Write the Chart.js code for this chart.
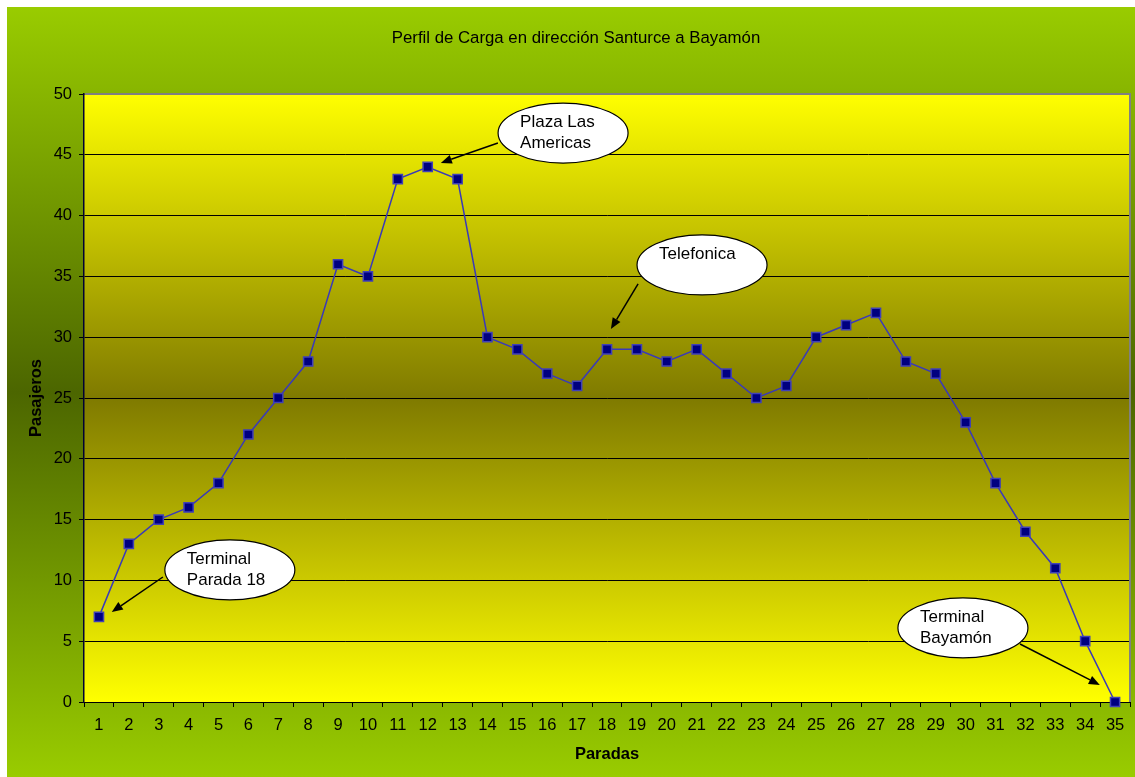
<!DOCTYPE html>
<html>
<head>
<meta charset="utf-8">
<title>Perfil de Carga en dirección Santurce a Bayamón</title>
<script src="https://cdn.jsdelivr.net/npm/chart.js@4"></script>
<style>
  html, body { margin: 0; padding: 0; background: #fff; }
  #wrap { width: 1135px; height: 777px; }
</style>
</head>
<body>
<div id="wrap"><canvas id="c" width="1135" height="777"></canvas></div>
<script>
// Stops along the route (x axis) and passenger load at each stop
const stopLabels = ['1','2','3','4','5','6','7','8','9','10','11','12','13','14','15','16','17','18',
                    '19','20','21','22','23','24','25','26','27','28','29','30','31','32','33','34','35'];
const passengers = [7,13,15,16,18,22,25,28,36,35,43,44,43,30,29,27,26,29,29,28,29,27,25,26,
                    30,31,32,28,27,23,18,14,11,5,0];
const yTicks = [0,5,10,15,20,25,30,35,40,45,50];

const chartTitle = 'Perfil de Carga en dirección Santurce a Bayamón';
const xTitle = 'Paradas';
const yTitle = 'Pasajeros';

// Callout bubbles: text lines
const calloutTexts = [
  ['Terminal', 'Parada 18'],
  ['Plaza Las', 'Americas'],
  ['Telefonica'],
  ['Terminal', 'Bayamón']
];
// Bubble centre and arrow (tail -> tip), in (stop, passengers) units
const calloutPlacement = [
  { c: [5.38, 10.86],  from: [3.14, 10.28],  to: [1.43, 7.40] },
  { c: [16.53, 46.79], from: [14.35, 45.97], to: [12.44, 44.33] },
  { c: [21.18, 35.94], from: [19.04, 34.38], to: [18.13, 30.67] },
  { c: [29.91, 6.09],  from: [31.82, 4.77],  to: [34.49, 1.40] }
];

const FONT = "'Liberation Sans', Arial, sans-serif";

// Frame backgrounds: green outer panel and yellow/olive plot area
const backgroundPlugin = {
  id: 'panelBackground',
  beforeDraw(chart) {
    const { ctx, chartArea: a } = chart;
    ctx.save();
    ctx.fillStyle = '#ffffff';
    ctx.fillRect(0, 0, chart.width, chart.height);

    const og = ctx.createLinearGradient(0, 7, 0, chart.height);
    og.addColorStop(0, '#99cc00');
    og.addColorStop(0.5, '#4c6600');
    og.addColorStop(1, '#99cc00');
    ctx.fillStyle = og;
    ctx.fillRect(7, 7, chart.width - 7, chart.height - 7);

    const pg = ctx.createLinearGradient(0, a.top, 0, a.bottom);
    pg.addColorStop(0, '#ffff00');
    pg.addColorStop(0.5, '#7f7a00');
    pg.addColorStop(1, '#ffff00');
    ctx.fillStyle = pg;
    ctx.fillRect(a.left, a.top, a.right - a.left, a.bottom - a.top);

    // chart title
    ctx.fillStyle = '#000';
    ctx.font = '16.8px ' + FONT;
    ctx.textAlign = 'center';
    ctx.textBaseline = 'middle';
    ctx.fillText(chartTitle, 576, 38);
    ctx.restore();
  },
  beforeDatasetsDraw(chart) {
    const { ctx, chartArea: a } = chart;
    ctx.save();
    ctx.strokeStyle = '#808080';
    ctx.lineWidth = 2;
    ctx.beginPath();
    ctx.moveTo(a.left + 1, a.top);
    ctx.lineTo(a.right, a.top);
    ctx.lineTo(a.right, a.bottom);
    ctx.stroke();
    ctx.restore();
  }
};

// Oval callouts with arrows pointing at stops
const calloutPlugin = {
  id: 'callouts',
  afterDatasetsDraw(chart) {
    const { ctx, scales: { x, y } } = chart;
    const px = v => x.getPixelForValue(v - 1);
    const py = v => y.getPixelForValue(v);
    ctx.save();
    calloutPlacement.forEach((p, i) => {
      // arrow
      const x0 = px(p.from[0]), y0 = py(p.from[1]);
      const x1 = px(p.to[0]), y1 = py(p.to[1]);
      const ang = Math.atan2(y1 - y0, x1 - x0);
      const hl = 11, hw = 4.5;
      const bx = x1 - hl * Math.cos(ang), by = y1 - hl * Math.sin(ang);
      ctx.strokeStyle = '#000';
      ctx.lineWidth = 1.5;
      ctx.beginPath();
      ctx.moveTo(x0, y0);
      ctx.lineTo(bx, by);
      ctx.stroke();
      ctx.fillStyle = '#000';
      ctx.beginPath();
      ctx.moveTo(x1, y1);
      ctx.lineTo(bx + hw * Math.sin(ang), by - hw * Math.cos(ang));
      ctx.lineTo(bx - hw * Math.sin(ang), by + hw * Math.cos(ang));
      ctx.closePath();
      ctx.fill();

      // bubble
      const cx = px(p.c[0]), cy = py(p.c[1]);
      ctx.beginPath();
      ctx.ellipse(cx, cy, 65, 30, 0, 0, Math.PI * 2);
      ctx.fillStyle = '#ffffff';
      ctx.fill();
      ctx.lineWidth = 1.2;
      ctx.strokeStyle = '#000';
      ctx.stroke();

      ctx.fillStyle = '#000';
      ctx.font = '17px ' + FONT;
      ctx.textAlign = 'left';
      ctx.textBaseline = 'middle';
      calloutTexts[i].forEach((line, k) => {
        ctx.fillText(line, cx - 43, cy - 11 + k * 21);
      });
    });
    ctx.restore();
  }
};

new Chart(document.getElementById('c'), {
  type: 'line',
  data: {
    labels: stopLabels,
    datasets: [{
      label: yTitle,
      data: passengers,
      borderColor: '#3a3ab8',
      borderWidth: 1.5,
      tension: 0,
      fill: false,
      pointStyle: 'rect',
      pointRadius: 6.5,
      pointHoverRadius: 6.5,
      pointBackgroundColor: '#000080',
      pointBorderColor: '#4040b8',
      pointBorderWidth: 1.5,
      clip: false
    }]
  },
  options: {
    responsive: false,
    animation: false,
    devicePixelRatio: 1,
    layout: { autoPadding: false, padding: { top: 94, right: 5, left: 0, bottom: 0 } },
    events: [],
    plugins: {
      legend: { display: false },
      tooltip: { enabled: false },
      title: { display: false }
    },
    scales: {
      x: {
        type: 'category',
        offset: true,
        grid: { offset: true, drawOnChartArea: false, drawTicks: true, tickLength: 5, color: '#000', lineWidth: 1 },
        border: { color: '#000', width: 1 },
        ticks: { color: '#000', font: { family: FONT, size: 16.5 }, padding: 9, maxRotation: 0, autoSkip: false },
        title: { display: true, text: xTitle, color: '#000',
                 font: { family: FONT, size: 16.5, weight: 'bold' }, padding: { top: 0, bottom: 13 } },
        afterFit(s) { s.height = 75; s.paddingLeft = 0; s.paddingRight = 0; }
      },
      y: {
        min: 0, max: 50,
        afterBuildTicks(s) { s.ticks = yTicks.map(v => ({ value: v })); },
        grid: { color: '#000', lineWidth: 1, tickLength: 5, drawTicks: true },
        border: { color: '#000033', width: 1.5 },
        ticks: { color: '#000', font: { family: FONT, size: 16.5 }, padding: 7 },
        title: { display: true, text: yTitle, color: '#000',
                 font: { family: FONT, size: 16.5, weight: 'bold' }, padding: { top: 27, bottom: 0 } },
        afterFit(s) { s.width = 84; }
      }
    }
  },
  plugins: [backgroundPlugin, calloutPlugin]
});
</script>
</body>
</html>
